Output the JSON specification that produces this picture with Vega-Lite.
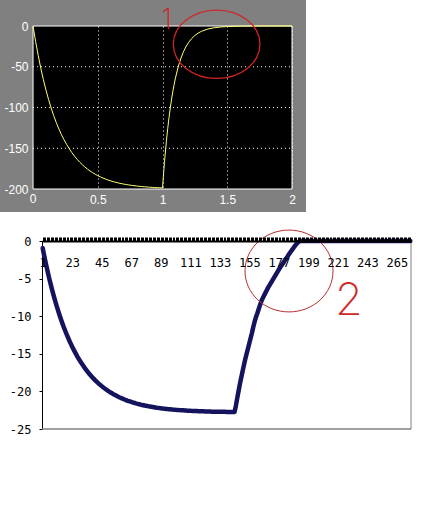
{
  "$schema": "https://vega.github.io/schema/vega-lite/v6.json",
  "background": "white",
  "padding": 0,
  "spacing": 2,
  "config": {"view": {"stroke": null}},
  "datasets": {
    "scope": [
      {"t":0,"v":0},{"t":0.02,"v":-19.03},{"t":0.04,"v":-36.25},{"t":0.06,"v":-51.84},{"t":0.08,"v":-65.94},{"t":0.1,"v":-78.69},{"t":0.12,"v":-90.24},{"t":0.14,"v":-100.68},{"t":0.16,"v":-110.13},{"t":0.18,"v":-118.69},{"t":0.2,"v":-126.42},{"t":0.22,"v":-133.43},{"t":0.24,"v":-139.76},{"t":0.26,"v":-145.49},{"t":0.28,"v":-150.68},{"t":0.3,"v":-155.37},{"t":0.32,"v":-159.62},{"t":0.34,"v":-163.46},{"t":0.36,"v":-166.94},{"t":0.38,"v":-170.09},{"t":0.4,"v":-172.93},{"t":0.42,"v":-175.51},{"t":0.44,"v":-177.84},{"t":0.46,"v":-179.95},{"t":0.48,"v":-181.86},{"t":0.5,"v":-183.58},{"t":0.52,"v":-185.15},{"t":0.54,"v":-186.56},{"t":0.56,"v":-187.84},{"t":0.58,"v":-189.0},{"t":0.6,"v":-190.04},{"t":0.62,"v":-190.99},{"t":0.64,"v":-191.85},{"t":0.66,"v":-192.62},{"t":0.68,"v":-193.33},{"t":0.7,"v":-193.96},{"t":0.72,"v":-194.54},{"t":0.74,"v":-195.06},{"t":0.76,"v":-195.53},{"t":0.78,"v":-195.95},{"t":0.8,"v":-196.34},{"t":0.82,"v":-196.69},{"t":0.84,"v":-197.0},{"t":0.86,"v":-197.29},{"t":0.88,"v":-197.54},{"t":0.9,"v":-197.78},{"t":0.92,"v":-197.99},{"t":0.94,"v":-198.18},{"t":0.96,"v":-198.35},{"t":0.98,"v":-198.51},{"t":1.0,"v":-198.65},
      {"t":1.005,"v":-187.7},{"t":1.01,"v":-177.3},{"t":1.015,"v":-167.5},{"t":1.02,"v":-158.3},{"t":1.03,"v":-141.3},{"t":1.04,"v":-126.1},{"t":1.05,"v":-112.6},{"t":1.06,"v":-100.5},{"t":1.07,"v":-89.7},{"t":1.08,"v":-80.0},{"t":1.09,"v":-71.4},{"t":1.1,"v":-63.8},{"t":1.12,"v":-50.8},{"t":1.14,"v":-40.5},{"t":1.16,"v":-32.2},{"t":1.18,"v":-25.7},{"t":1.2,"v":-20.5},{"t":1.225,"v":-15.4},{"t":1.25,"v":-11.6},{"t":1.275,"v":-8.73},{"t":1.3,"v":-6.57},{"t":1.35,"v":-3.72},{"t":1.4,"v":-2.11},{"t":1.45,"v":-1.19},{"t":1.5,"v":-0.68},{"t":1.6,"v":-0.22},{"t":1.7,"v":-0.07},{"t":1.8,"v":0},{"t":1.9,"v":0},{"t":2.0,"v":0}
    ],
    "scopegrid": [{"g": -50}, {"g": -100}, {"g": -150}],
    "excel": [
      {"n":1,"v":-0.93},{"n":2,"v":-1.82},{"n":3,"v":-2.68},{"n":4,"v":-3.5},{"n":5,"v":-4.29},{"n":6,"v":-5.04},{"n":7,"v":-5.77},{"n":8,"v":-6.46},{"n":9,"v":-7.13},{"n":10,"v":-7.77},
      {"n":11,"v":-8.38},{"n":12,"v":-8.97},{"n":13,"v":-9.54},{"n":14,"v":-10.08},{"n":15,"v":-10.6},{"n":16,"v":-11.09},{"n":17,"v":-11.57},{"n":18,"v":-12.03},{"n":19,"v":-12.47},{"n":20,"v":-12.89},
      {"n":21,"v":-13.3},{"n":22,"v":-13.68},{"n":23,"v":-14.06},{"n":24,"v":-14.41},{"n":25,"v":-14.75},{"n":26,"v":-15.08},{"n":27,"v":-15.4},{"n":28,"v":-15.7},{"n":29,"v":-15.99},{"n":30,"v":-16.27},
      {"n":31,"v":-16.53},{"n":32,"v":-16.79},{"n":33,"v":-17.04},{"n":34,"v":-17.27},{"n":35,"v":-17.5},{"n":36,"v":-17.71},{"n":37,"v":-17.92},{"n":38,"v":-18.12},{"n":39,"v":-18.31},{"n":40,"v":-18.49},
      {"n":41,"v":-18.67},{"n":42,"v":-18.84},{"n":43,"v":-19.0},{"n":44,"v":-19.15},{"n":45,"v":-19.3},{"n":46,"v":-19.45},{"n":47,"v":-19.58},{"n":48,"v":-19.71},{"n":49,"v":-19.84},{"n":50,"v":-19.96},
      {"n":51,"v":-20.08},{"n":52,"v":-20.19},{"n":53,"v":-20.29},{"n":54,"v":-20.4},{"n":55,"v":-20.49},{"n":56,"v":-20.59},{"n":57,"v":-20.68},{"n":58,"v":-20.77},{"n":59,"v":-20.85},{"n":60,"v":-20.93},
      {"n":61,"v":-21.0},{"n":62,"v":-21.08},{"n":63,"v":-21.15},{"n":64,"v":-21.22},{"n":65,"v":-21.28},{"n":66,"v":-21.34},{"n":67,"v":-21.4},{"n":68,"v":-21.46},{"n":69,"v":-21.51},{"n":70,"v":-21.57},
      {"n":71,"v":-21.62},{"n":72,"v":-21.66},{"n":73,"v":-21.71},{"n":74,"v":-21.76},{"n":75,"v":-21.8},{"n":76,"v":-21.84},{"n":77,"v":-21.88},{"n":78,"v":-21.92},{"n":79,"v":-21.95},{"n":80,"v":-21.99},
      {"n":81,"v":-22.02},{"n":82,"v":-22.05},{"n":83,"v":-22.08},{"n":84,"v":-22.11},{"n":85,"v":-22.14},{"n":86,"v":-22.17},{"n":87,"v":-22.19},{"n":88,"v":-22.22},{"n":89,"v":-22.24},{"n":90,"v":-22.26},
      {"n":91,"v":-22.29},{"n":92,"v":-22.31},{"n":93,"v":-22.33},{"n":94,"v":-22.35},{"n":95,"v":-22.36},{"n":96,"v":-22.38},{"n":97,"v":-22.4},{"n":98,"v":-22.42},{"n":99,"v":-22.43},{"n":100,"v":-22.45},
      {"n":101,"v":-22.46},{"n":102,"v":-22.47},{"n":103,"v":-22.49},{"n":104,"v":-22.5},{"n":105,"v":-22.51},{"n":106,"v":-22.52},{"n":107,"v":-22.54},{"n":108,"v":-22.55},{"n":109,"v":-22.56},{"n":110,"v":-22.57},
      {"n":111,"v":-22.58},{"n":112,"v":-22.59},{"n":113,"v":-22.59},{"n":114,"v":-22.6},{"n":115,"v":-22.61},{"n":116,"v":-22.62},{"n":117,"v":-22.63},{"n":118,"v":-22.63},{"n":119,"v":-22.64},{"n":120,"v":-22.65},
      {"n":121,"v":-22.65},{"n":122,"v":-22.66},{"n":123,"v":-22.66},{"n":124,"v":-22.67},{"n":125,"v":-22.68},{"n":126,"v":-22.68},{"n":127,"v":-22.69},{"n":128,"v":-22.69},{"n":129,"v":-22.69},{"n":130,"v":-22.7},
      {"n":131,"v":-22.7},{"n":132,"v":-22.71},{"n":133,"v":-22.71},{"n":134,"v":-22.71},{"n":135,"v":-22.72},{"n":136,"v":-22.72},{"n":137,"v":-22.72},{"n":138,"v":-22.73},{"n":139,"v":-22.73},{"n":140,"v":-22.73},
      {"n":141,"v":-22.74},{"n":142,"v":-22.74},{"n":143,"v":-22.74},{"n":144,"v":-22.74},{"n":145,"v":-21.9},{"n":146,"v":-20.9},{"n":147,"v":-19.95},{"n":148,"v":-19.0},{"n":149,"v":-18.15},{"n":150,"v":-17.3},
      {"n":151,"v":-16.5},{"n":152,"v":-15.7},{"n":153,"v":-15.0},{"n":154,"v":-14.3},{"n":155,"v":-13.6},{"n":156,"v":-12.9},{"n":157,"v":-12.2},{"n":158,"v":-11.4},{"n":159,"v":-10.7},{"n":160,"v":-10.1},
      {"n":161,"v":-9.6},{"n":162,"v":-9.05},{"n":163,"v":-8.5},{"n":164,"v":-8.0},{"n":165,"v":-7.6},{"n":166,"v":-7.25},{"n":167,"v":-6.9},{"n":168,"v":-6.55},{"n":169,"v":-6.2},{"n":170,"v":-5.9},
      {"n":171,"v":-5.6},{"n":172,"v":-5.3},{"n":173,"v":-5.0},{"n":174,"v":-4.7},{"n":175,"v":-4.4},{"n":176,"v":-4.1},{"n":177,"v":-3.8},{"n":178,"v":-3.5},{"n":179,"v":-3.25},{"n":180,"v":-3.0},
      {"n":181,"v":-2.7},{"n":182,"v":-2.45},{"n":183,"v":-2.2},{"n":184,"v":-1.9},{"n":185,"v":-1.65},{"n":186,"v":-1.4},{"n":187,"v":-1.15},{"n":188,"v":-0.9},{"n":189,"v":-0.65},{"n":190,"v":-0.42},
      {"n":191,"v":-0.22},{"n":192,"v":-0.08},{"n":193,"v":0},{"n":194,"v":0},{"n":195,"v":0},{"n":196,"v":0},{"n":197,"v":0},{"n":198,"v":0},{"n":199,"v":0},{"n":200,"v":0},
      {"n":201,"v":0},{"n":202,"v":0},{"n":203,"v":0},{"n":204,"v":0},{"n":205,"v":0},{"n":206,"v":0},{"n":207,"v":0},{"n":208,"v":0},{"n":209,"v":0},{"n":210,"v":0},
      {"n":211,"v":0},{"n":212,"v":0},{"n":213,"v":0},{"n":214,"v":0},{"n":215,"v":0},{"n":216,"v":0},{"n":217,"v":0},{"n":218,"v":0},{"n":219,"v":0},{"n":220,"v":0},
      {"n":221,"v":0},{"n":222,"v":0},{"n":223,"v":0},{"n":224,"v":0},{"n":225,"v":0},{"n":226,"v":0},{"n":227,"v":0},{"n":228,"v":0},{"n":229,"v":0},{"n":230,"v":0},
      {"n":231,"v":0},{"n":232,"v":0},{"n":233,"v":0},{"n":234,"v":0},{"n":235,"v":0},{"n":236,"v":0},{"n":237,"v":0},{"n":238,"v":0},{"n":239,"v":0},{"n":240,"v":0},
      {"n":241,"v":0},{"n":242,"v":0},{"n":243,"v":0},{"n":244,"v":0},{"n":245,"v":0},{"n":246,"v":0},{"n":247,"v":0},{"n":248,"v":0},{"n":249,"v":0},{"n":250,"v":0},
      {"n":251,"v":0},{"n":252,"v":0},{"n":253,"v":0},{"n":254,"v":0},{"n":255,"v":0},{"n":256,"v":0},{"n":257,"v":0},{"n":258,"v":0},{"n":259,"v":0},{"n":260,"v":0},
      {"n":261,"v":0},{"n":262,"v":0},{"n":263,"v":0},{"n":264,"v":0},{"n":265,"v":0},{"n":266,"v":0},{"n":267,"v":0},{"n":268,"v":0},{"n":269,"v":0},{"n":270,"v":0},
      {"n":271,"v":0},{"n":272,"v":0},{"n":273,"v":0},{"n":274,"v":0},{"n":275,"v":0}
    ]
  },
  "vconcat": [
    {
      "width": 250,
      "height": 163,
      "layer": [
        {
          "data": {"values": [{}]},
          "mark": {"type": "rect", "fill": "#808080"},
          "encoding": {
            "x": {"datum": -0.255, "type": "quantitative"},
            "x2": {"datum": 2.108},
            "y": {"datum": 31.9, "type": "quantitative"},
            "y2": {"datum": -228.2}
          }
        },
        {
          "data": {"values": [{}]},
          "mark": {"type": "rect", "fill": "black", "stroke": "white", "strokeWidth": 1},
          "encoding": {
            "x": {"datum": 0, "type": "quantitative"},
            "x2": {"datum": 2},
            "y": {"datum": 0, "type": "quantitative"},
            "y2": {"datum": -200}
          }
        },
        {
          "data": {"name": "scopegrid"},
          "mark": {"type": "rule", "color": "white", "strokeWidth": 1, "strokeDash": [1, 3]},
          "encoding": {
            "x": {"datum": 0, "type": "quantitative"},
            "x2": {"datum": 2},
            "y": {"field": "g", "type": "quantitative"}
          }
        },
        {
          "data": {"values": [{}]},
          "mark": {"type": "text", "text": "0", "font": "Liberation Sans", "fontSize": 12, "color": "white", "align": "center", "baseline": "top", "dy": 5},
          "encoding": {
            "x": {"datum": 0, "type": "quantitative"},
            "y": {"datum": -200, "type": "quantitative"}
          }
        },
        {
          "data": {"name": "scope"},
          "mark": {"type": "line", "color": "#ffff70", "strokeWidth": 1},
          "encoding": {
            "x": {
              "field": "t", "type": "quantitative",
              "scale": {"domain": [0.0692, 2], "nice": false, "zero": false},
              "axis": {"title": null, "values": [0, 0.5, 1, 1.5, 2], "tickCount": 10, "grid": true, "gridColor": "white", "gridDash": [1, 3], "gridOpacity": 1, "gridWidth": 1, "ticks": false, "tickSize": 0, "domain": false, "labelColor": "white", "labelFont": "Liberation Sans", "labelFontSize": 12, "labelPadding": 5, "labelFlush": false, "labelOverlap": false, "labelBound": false, "labelExpr": "'' + datum.value", "zindex": 1}
            },
            "y": {
              "field": "v", "type": "quantitative",
              "scale": {"domain": [-200, 0], "nice": false, "zero": false},
              "axis": {"title": null, "values": [0, -50, -100, -150, -200], "tickCount": 10, "grid": false, "ticks": false, "tickSize": 0, "domain": false, "offset": 9, "labelColor": "white", "labelFont": "Liberation Sans", "labelFontSize": 12, "labelPadding": 5, "labelOverlap": false, "labelExpr": "'' + datum.value", "zindex": 1}
            }
          }
        },
        {
          "data": {"values": [{}]},
          "mark": {"type": "point", "shape": "M-1,0A1,0.79,0,1,1,1,0A1,0.79,0,1,1,-1,0Z", "filled": false, "color": "#d02525", "strokeWidth": 1.3, "opacity": 1, "size": 7500},
          "encoding": {
            "x": {"datum": 1.418, "type": "quantitative"},
            "y": {"datum": -22.4, "type": "quantitative"}
          }
        },
        {
          "data": {"values": [{}]},
          "mark": {"type": "text", "text": "1", "font": "Inter", "fontWeight": 200, "fontSize": 28, "color": "#d02020", "align": "center", "baseline": "middle"},
          "encoding": {
            "x": {"datum": 1.031, "type": "quantitative"},
            "y": {"datum": 6.7, "type": "quantitative"}
          }
        }
      ]
    },
    {
      "width": 369,
      "height": 188,
      "layer": [
        {
          "data": {"values": [{}]},
          "mark": {"type": "rect", "fill": "white", "fillOpacity": 0},
          "encoding": {
            "x": {"datum": -30.8, "type": "quantitative"},
            "x2": {"datum": 282.2},
            "y": {"datum": 3.59, "type": "quantitative"},
            "y2": {"datum": -28.7}
          }
        },
        {
          "data": {"values": [{}]},
          "mark": {"type": "rule", "color": "#808080", "strokeWidth": 1},
          "encoding": {
            "x": {"datum": 275.5, "type": "quantitative"},
            "y": {"datum": 0, "type": "quantitative"},
            "y2": {"datum": -25}
          }
        },
        {
          "data": {"values": [{}]},
          "mark": {"type": "rule", "color": "#808080", "strokeWidth": 1.5},
          "encoding": {
            "x": {"datum": 0.5, "type": "quantitative"},
            "x2": {"datum": 275.5},
            "y": {"datum": -25, "type": "quantitative"}
          }
        },
        {
          "data": {"name": "excel"},
          "mark": {"type": "line", "color": "#14145e", "strokeWidth": 4.5, "strokeJoin": "round", "strokeCap": "round"},
          "encoding": {
            "x": {
              "field": "n", "type": "quantitative",
              "scale": {"domain": [0.5, 275.5], "nice": false, "zero": false},
              "axis": {"title": null, "orient": "top", "tickCount": 275, "grid": false, "domainColor": "black", "domainWidth": 2, "tickColor": "black", "tickSize": 4, "tickWidth": 1, "labelExpr": "(datum.value - 1) % 22 == 0 ? '' + datum.value : ''", "labelOverlap": false, "labelFlush": false, "labelBound": false, "labelBaseline": "top", "labelPadding": -20, "labelFont": "DejaVu Sans Mono", "labelFontSize": 12, "labelColor": "black", "zindex": 1}
            },
            "y": {
              "field": "v", "type": "quantitative",
              "scale": {"domain": [-25, 0], "nice": false, "zero": false},
              "axis": {"title": null, "values": [0, -5, -10, -15, -20, -25], "tickCount": 10, "grid": false, "domainColor": "black", "domainWidth": 1, "tickColor": "black", "tickSize": 3, "labelPadding": 8, "labelOverlap": false, "labelFont": "DejaVu Sans Mono", "labelFontSize": 12, "labelColor": "black", "labelExpr": "'' + datum.value"}
            }
          }
        },
        {
          "data": {"values": [{}]},
          "mark": {"type": "point", "shape": "M-1,0A1,0.93,0,1,1,1,0A1,0.93,0,1,1,-1,0Z", "filled": false, "color": "#b83030", "strokeWidth": 1, "opacity": 1, "size": 7744},
          "encoding": {
            "x": {"datum": 184.6, "type": "quantitative"},
            "y": {"datum": -3.99, "type": "quantitative"}
          }
        },
        {
          "data": {"values": [{}]},
          "mark": {"type": "text", "text": "2", "font": "Inter", "fontWeight": 200, "fontSize": 45, "color": "#d02828", "align": "center", "baseline": "middle"},
          "encoding": {
            "x": {"datum": 229.3, "type": "quantitative"},
            "y": {"datum": -7.98, "type": "quantitative"}
          }
        }
      ]
    }
  ]
}
